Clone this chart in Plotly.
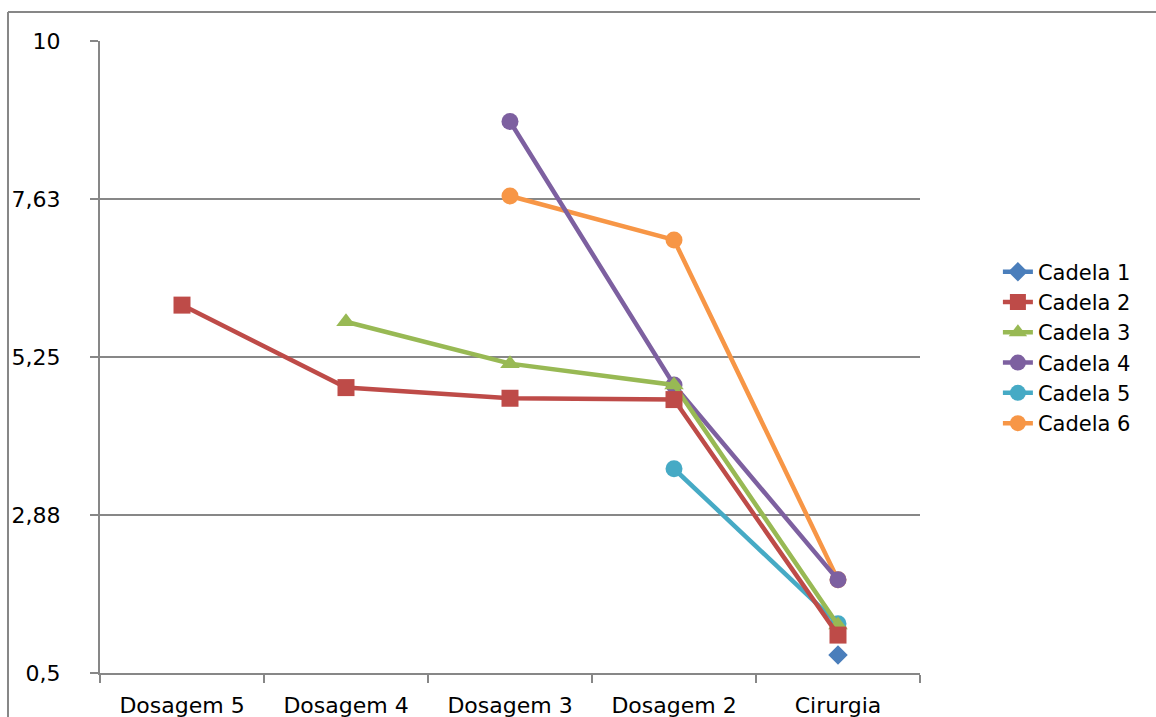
import plotly.graph_objects as go

# Categories along the x axis
etapas = ["Dosagem 5", "Dosagem 4", "Dosagem 3", "Dosagem 2", "Cirurgia"]

# Measured values per animal (None = no measurement)
cadela_1 = [None, None, None, None, 0.77]
cadela_2 = [6.03, 4.79, 4.63, 4.61, 1.07]
cadela_3 = [None, 5.78, 5.15, 4.83, 1.22]
cadela_4 = [None, None, 8.79, 4.83, 1.90]
cadela_5 = [None, None, None, 3.57, 1.24]
cadela_6 = [None, None, 7.67, 7.01, 1.90]

# Y axis ticks
y_ticks = [0.5, 2.875, 5.25, 7.625, 10]
y_tick_labels = ["0,5", "2,88", "5,25", "7,63", "10"]

series = [
    ("Cadela 1", cadela_1, "#4A7EBB", "diamond", 15),
    ("Cadela 2", cadela_2, "#BE4B48", "square", 17),
    ("Cadela 3", cadela_3, "#98B954", "triangle-up", 17),
    ("Cadela 4", cadela_4, "#7D60A0", "circle", 17),
    ("Cadela 5", cadela_5, "#46AAC5", "circle", 17),
    ("Cadela 6", cadela_6, "#F79646", "circle", 17),
]

fig = go.Figure()
# Later series first so that the first ones sit on top
for name, vals, color, symbol, size in reversed(series):
    fig.add_trace(go.Scatter(
        x=etapas, y=vals, name=name, mode="lines+markers",
        line=dict(color=color, width=4.5),
        marker=dict(color=color, symbol=symbol, size=size),
        connectgaps=False,
    ))

grid_col = "#878787"
font_fam = "DejaVu Sans"
fs = 22

fig.update_layout(
    width=1156, height=717,
    margin=dict(l=100, r=236, t=41, b=44),
    paper_bgcolor="white", plot_bgcolor="white",
    font=dict(family=font_fam, size=fs, color="black"),
    showlegend=True,
    legend=dict(
        x=1.095, y=0.515, xanchor="left", yanchor="middle",
        traceorder="reversed", font=dict(size=21),
        itemwidth=30, tracegroupgap=0,
    ),
    xaxis=dict(
        type="category", range=[-0.5, 4.5], automargin=False,
        showline=True, linecolor=grid_col, linewidth=2,
        ticks="outside", ticklen=8, tickwidth=2, tickcolor=grid_col,
        tickson="boundaries", showgrid=False, zeroline=False,
        ticklabelstandoff=12, tickfont=dict(size=fs),
    ),
    yaxis=dict(
        range=[0.5, 10], tickvals=y_ticks, ticktext=y_tick_labels,
        automargin=False,
        showline=True, linecolor=grid_col, linewidth=2,
        ticks="outside", ticklen=8, tickwidth=2, tickcolor=grid_col,
        showgrid=True, gridcolor=grid_col, gridwidth=2, zeroline=False,
        ticklabelstandoff=25, tickfont=dict(size=fs),
    ),
    # Outer chart frame (left and top edges)
    shapes=[
        dict(type="line", xref="paper", yref="paper",
             x0=-0.1122, x1=-0.1122, y0=-0.2, y1=1.0459,
             line=dict(color=grid_col, width=2), layer="below"),
        dict(type="line", xref="paper", yref="paper",
             x0=-0.1122, x1=1.4, y0=1.0459, y1=1.0459,
             line=dict(color=grid_col, width=2), layer="below"),
    ],
)

fig.write_html("out.html")
